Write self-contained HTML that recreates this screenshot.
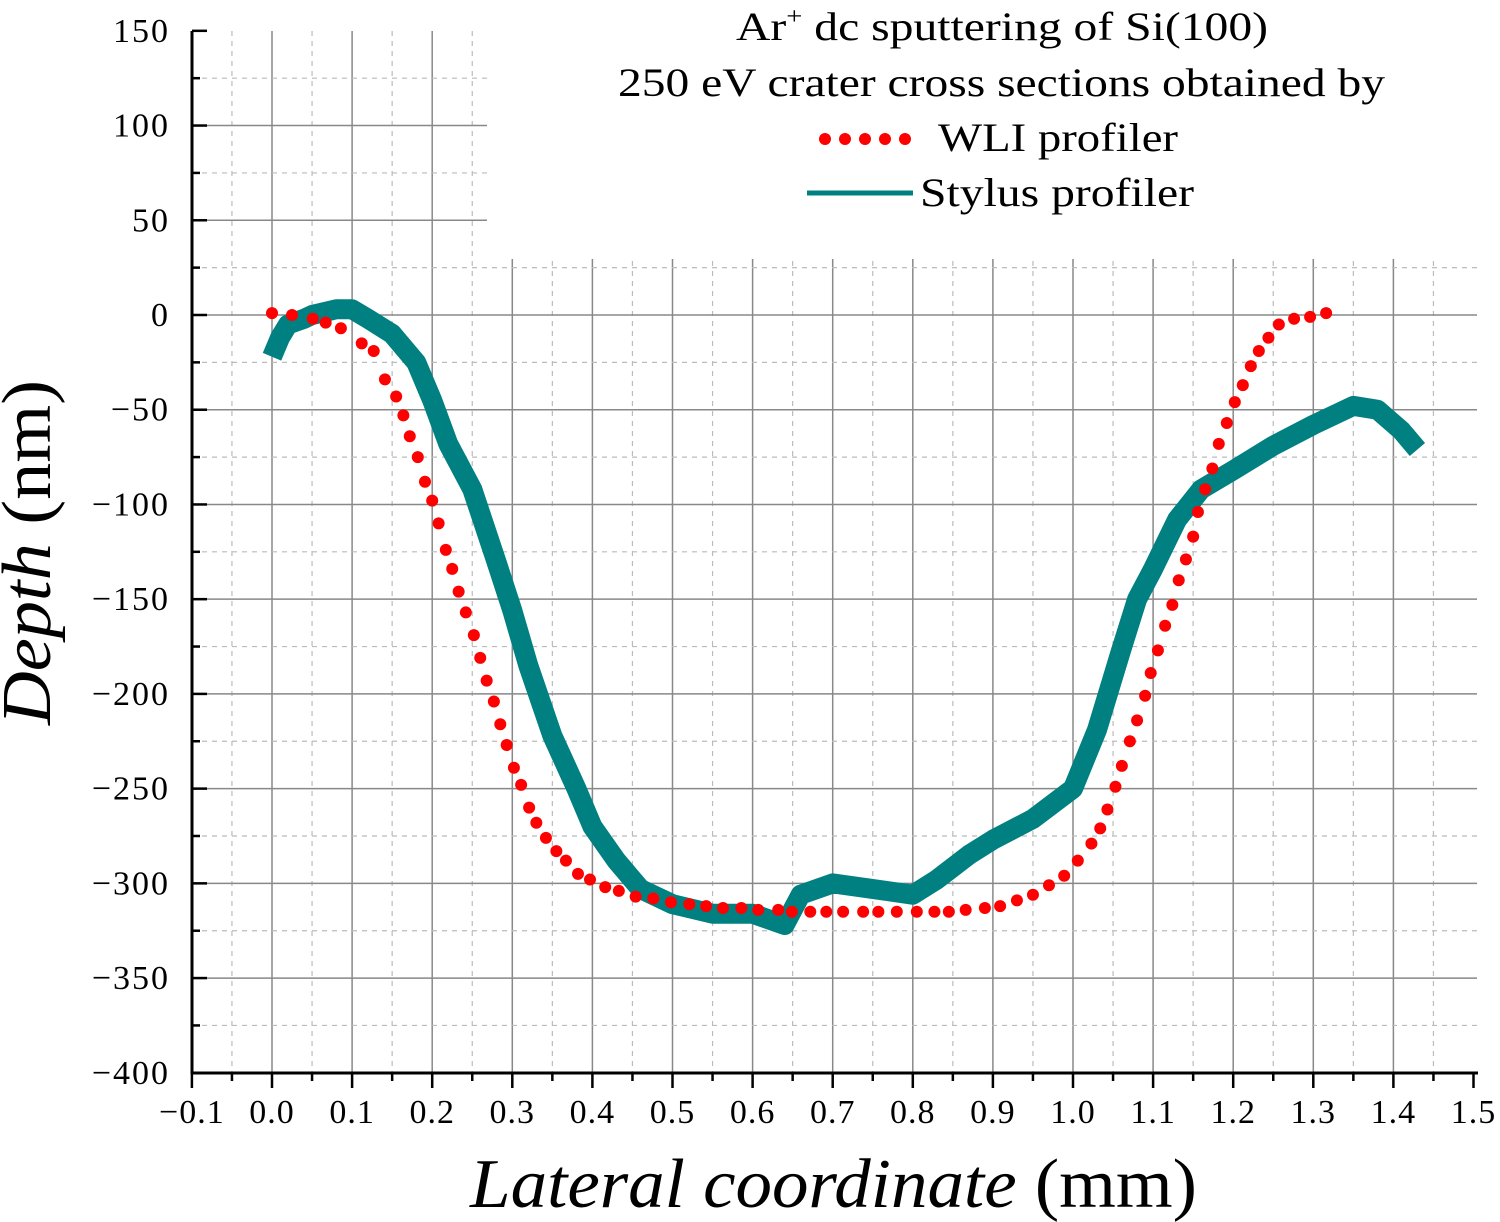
<!DOCTYPE html>
<html><head><meta charset="utf-8"><style>
html,body{margin:0;padding:0;background:#fff}
svg{display:block;font-family:"Liberation Serif","DejaVu Serif",serif}
</style></head><body>
<svg id="chart" width="1500" height="1222" viewBox="0 0 1500 1222" xmlns="http://www.w3.org/2000/svg">
<g id="grid"></g>
<rect x="487" y="0" width="1013" height="259" fill="#fff"/>
<g id="axes"></g>
<g id="series"></g>
<g font-size="40">
<text x="736" y="40" textLength="532" lengthAdjust="spacingAndGlyphs">Ar<tspan font-size="24" dy="-16">+</tspan><tspan dy="16"> dc sputtering of Si(100)</tspan></text>
<text x="618" y="96" textLength="767" lengthAdjust="spacingAndGlyphs">250 eV crater cross sections obtained by</text>
<g>
<circle cx="825" cy="139" r="6" fill="#f00"/><circle cx="845" cy="139" r="6" fill="#f00"/><circle cx="865" cy="139" r="6" fill="#f00"/><circle cx="885" cy="139" r="6" fill="#f00"/><circle cx="905" cy="139" r="6" fill="#f00"/>
<text x="938" y="151" textLength="240" lengthAdjust="spacingAndGlyphs">WLI profiler</text></g>
<g>
<line x1="807" y1="193" x2="913" y2="193" stroke="#008080" stroke-width="5"/>
<text x="920" y="206" textLength="274" lengthAdjust="spacingAndGlyphs">Stylus profiler</text></g>
</g>
<text x="470" y="1207" font-size="70" textLength="727" lengthAdjust="spacingAndGlyphs"><tspan font-style="italic">Lateral coordinate</tspan> (mm)</text>
<text transform="translate(50,725) rotate(-90)" font-size="70" textLength="345" lengthAdjust="spacingAndGlyphs"><tspan font-style="italic">Depth</tspan> (nm)</text>
</svg>
<script>
const xTicks=[-0.1,0.0,0.1,0.2,0.3,0.4,0.5,0.6,0.7,0.8,0.9,1.0,1.1,1.2,1.3,1.4,1.5];
const yTicks=[150,100,50,0,-50,-100,-150,-200,-250,-300,-350,-400];
const wliX=[0,0.025,0.051,0.067,0.086,0.112,0.127,0.141,0.155,0.164,0.172,0.182,0.191,0.2,0.208,0.217,0.225,0.233,0.242,0.252,0.26,0.268,0.277,0.285,0.293,0.302,0.311,0.321,0.33,0.342,0.355,0.367,0.382,0.397,0.416,0.433,0.454,0.476,0.498,0.521,0.542,0.563,0.586,0.607,0.632,0.649,0.672,0.692,0.713,0.738,0.757,0.78,0.805,0.827,0.845,0.866,0.89,0.909,0.93,0.95,0.97,0.989,1.006,1.023,1.034,1.043,1.053,1.061,1.071,1.08,1.09,1.097,1.106,1.115,1.124,1.132,1.141,1.15,1.156,1.165,1.174,1.182,1.192,1.202,1.212,1.222,1.232,1.244,1.257,1.276,1.296,1.316];
const wliY=[1,0,-2,-4,-7,-15,-19,-34,-43,-53,-64,-75,-88,-98,-110,-124,-134,-146,-157,-169,-181,-193,-204,-216,-227,-239,-248,-260,-268,-276,-283,-288,-295,-298,-302,-304,-307,-308,-310,-311,-312,-313,-313,-314,-314,-315,-315,-315,-315,-315,-315,-315,-315,-315,-315,-314,-313,-312,-309,-306,-301,-296,-288,-279,-271,-261,-249,-238,-225,-214,-201,-189,-177,-164,-153,-140,-129,-117,-104,-92,-81,-68,-57,-46,-37,-27,-19,-12,-5,-2,-1,1];
const styX=[0,0.01,0.02,0.04,0.05,0.08,0.1,0.12,0.15,0.18,0.2,0.22,0.25,0.28,0.3,0.32,0.35,0.38,0.4,0.43,0.46,0.5,0.55,0.6,0.64,0.66,0.7,0.75,0.8,0.83,0.87,0.9,0.95,1.0,1.03,1.06,1.08,1.1,1.13,1.16,1.2,1.25,1.3,1.35,1.38,1.41,1.43];
const styY=[-22,-12,-5,-2,0,3,3,-2,-10,-25,-45,-68,-92,-130,-156,-185,-222,-250,-270,-288,-303,-311,-316,-316,-322,-306,-300,-303,-306,-298,-285,-277,-266,-250,-219,-177,-150,-134,-108,-92,-82,-69,-58,-48,-50,-61,-71];
const X=v=>272+(v-0)*801;
const Y=v=>315-v*1.8945;
const NS="http://www.w3.org/2000/svg";
function mk(tag,attrs,parent){const e=document.createElementNS(NS,tag);for(const k in attrs)e.setAttribute(k,attrs[k]);parent.appendChild(e);return e;}
const grid=document.getElementById('grid'),axes=document.getElementById('axes'),series=document.getElementById('series');
for(let i=0;i<xTicks.length;i++){const x=X(xTicks[i]);
 if(i>0&&i<xTicks.length-1){const l=mk('line',{x1:x,y1:31,x2:x,y2:1073,stroke:'#888','stroke-width':1.5},grid);
 
 }
 if(i<xTicks.length-1){const xm=X(xTicks[i]+0.05);const m=mk('line',{x1:xm,y1:31,x2:xm,y2:1073,stroke:'#bbb','stroke-width':1.2,'stroke-dasharray':'5,5'},grid);
 
 
 mk('line',{x1:xm,y1:1073,x2:xm,y2:1081,stroke:'#000','stroke-width':2.5},axes);}
 mk('line',{x1:x,y1:1073,x2:x,y2:1088,stroke:'#000','stroke-width':2.5},axes);
 const t=mk('text',{x:x,y:1123,'font-size':34,'text-anchor':'middle','letter-spacing':1},axes);t.textContent=(xTicks[i]<0?'\u22120.1':xTicks[i].toFixed(1));
 
 }
for(let i=0;i<yTicks.length;i++){const y=Y(yTicks[i]);
 if(i>0&&i<yTicks.length-1){const l=mk('line',{x1:192,y1:y,x2:1477,y2:y,stroke:'#888','stroke-width':1.5},grid);
 
 }
 if(i<yTicks.length-1){const ym=Y(yTicks[i]-25);const m=mk('line',{x1:192,y1:ym,x2:1477,y2:ym,stroke:'#bbb','stroke-width':1.2,'stroke-dasharray':'5,5'},grid);
 
 
 mk('line',{x1:192,y1:ym,x2:200,y2:ym,stroke:'#000','stroke-width':2.5},axes);}
 mk('line',{x1:192,y1:y,x2:207,y2:y,stroke:'#000','stroke-width':2.5},axes);
 const t=mk('text',{x:170,y:y+11,'font-size':34,'text-anchor':'end','letter-spacing':2},axes);t.textContent=(yTicks[i]<0?'\u2212'+(-yTicks[i]):String(yTicks[i]));
 
 }
mk('line',{x1:192,y1:31,x2:192,y2:1074,stroke:'#000','stroke-width':3},axes);
mk('line',{x1:191,y1:1073,x2:1478,y2:1073,stroke:'#000','stroke-width':3},axes);
let d='';for(let i=0;i<styX.length;i++)d+=(i?'L':'M')+X(styX[i]).toFixed(1)+','+Y(styY[i]).toFixed(1);
const p=mk('path',{d:d,fill:'none',stroke:'#008080','stroke-width':20,'stroke-linejoin':'round','stroke-linecap':'butt'},series);


for(let i=0;i<wliX.length;i++){const c=mk('circle',{cx:X(wliX[i]),cy:Y(wliY[i]),r:6,fill:'#f00'},series);
 
 }
</script>
</body></html>
